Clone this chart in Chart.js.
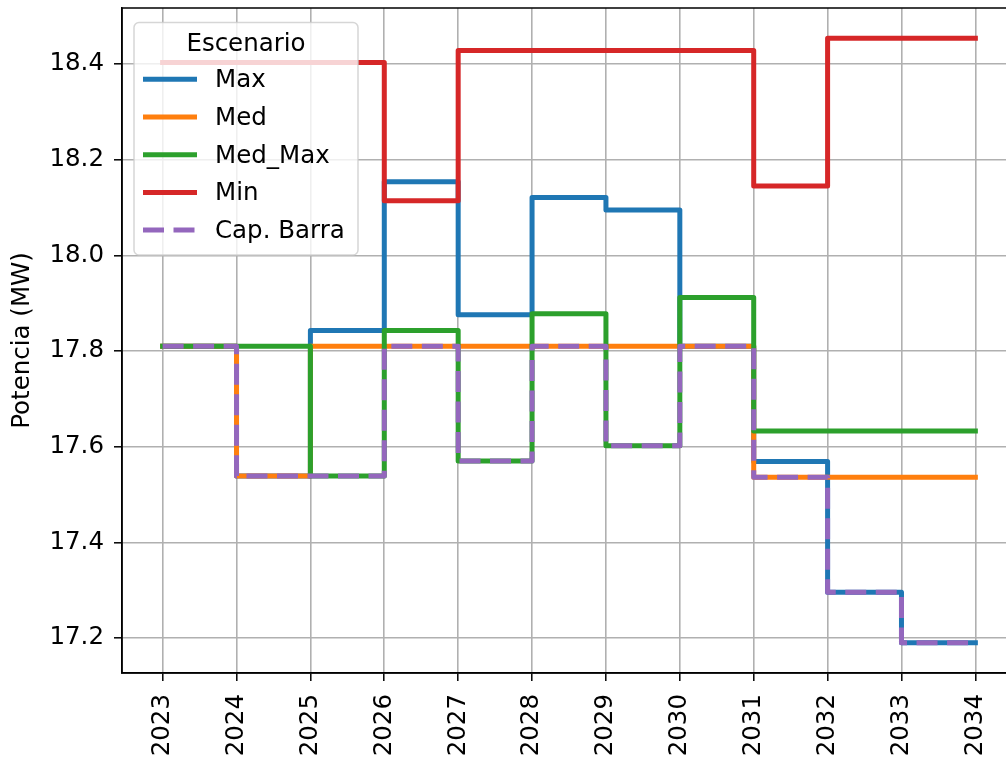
<!DOCTYPE html>
<html>
<head>
<meta charset="utf-8">
<script src="https://cdn.jsdelivr.net/npm/chart.js@4.4.0/dist/chart.umd.min.js"></script>
<style>
  html, body { margin: 0; padding: 0; overflow: hidden; background: #fff; }
  canvas { display: block; }
</style>
</head>
<body>
<canvas id="myChart" width="1016" height="760"></canvas>
<script>
// data
const years = [2023, 2024, 2025, 2026, 2027, 2028, 2029, 2030, 2031, 2032, 2033, 2034];
const seriesNames = ["Max", "Med", "Med_Max", "Min", "Cap. Barra"];
const maxValues = [17.81, 17.539, 17.843, 18.154, 17.876, 18.121, 18.095, 17.81, 17.569, 17.296, 17.19, 17.19];
const medValues = [17.81, 17.539, 17.81, 17.81, 17.81, 17.81, 17.81, 17.81, 17.536, 17.536, 17.536, 17.536];
const medMaxValues = [17.81, 17.81, 17.539, 17.843, 17.57, 17.878, 17.602, 17.912, 17.633, 17.633, 17.633, 17.633];
const minValues = [18.403, 18.403, 18.403, 18.114, 18.428, 18.428, 18.428, 18.428, 18.145, 18.454, 18.454, 18.454];
const capBarraValues = [17.81, 17.539, 17.539, 17.81, 17.57, 17.81, 17.602, 17.81, 17.536, 17.296, 17.19, 17.19];
const yTicks = [17.2, 17.4, 17.6, 17.8, 18.0, 18.2, 18.4];
const legendTitle = "Escenario";
const yTitle = "Potencia (MW)";

const colors = ["#1f77b4", "#ff7f0e", "#2ca02c", "#d62728", "#9467bd"];
const allValues = [maxValues, medValues, medMaxValues, minValues, capBarraValues];

const cxt = document.querySelector("#myChart");
Chart.defaults.font.family = "'DejaVu Sans', sans-serif";
Chart.defaults.font.size = 24.5;
Chart.defaults.color = "#000";

const datasets = seriesNames.map((name, i) => ({
  label: name,
  data: years.map((yr, j) => ({ x: yr, y: allValues[i][j] })),
  borderColor: colors[i],
  backgroundColor: colors[i],
  borderWidth: 5,
  borderDash: i === 4 ? [21, 9.5] : [],
  borderCapStyle: i === 4 ? "butt" : "square",
  borderJoinStyle: "round",
  stepped: "before",
  pointRadius: 0,
  fill: false,
  order: 5 - i,
}));

// axes frame, drawn over the lines
const frame = {
  id: "frame",
  afterDatasetsDraw(chart) {
    const { ctx, chartArea: a } = chart;
    ctx.save();
    ctx.strokeStyle = "#000";
    ctx.lineWidth = 1.5;
    ctx.strokeRect(a.left, a.top, a.right - a.left, a.bottom - a.top);
    ctx.restore();
  },
};

// matplotlib-like legend in the upper left corner
const legendBox = {
  id: "legendBox",
  afterDraw(chart) {
    const ctx = chart.ctx;
    ctx.save();
    ctx.beginPath();
    ctx.roundRect(134, 22.5, 224, 232.5, 5);
    ctx.fillStyle = "rgba(255,255,255,0.8)";
    ctx.fill();
    ctx.strokeStyle = "rgba(204,204,204,0.8)";
    ctx.lineWidth = 1.5;
    ctx.stroke();

    ctx.font = "24.5px 'DejaVu Sans'";
    ctx.fillStyle = "#000";
    ctx.textBaseline = "alphabetic";
    ctx.textAlign = "center";
    ctx.fillText(legendTitle, 246, 50.5);

    chart.data.datasets.forEach((ds, i) => {
      const y = 79.3 + i * 37.7;
      ctx.beginPath();
      ctx.setLineDash(ds.borderDash);
      ctx.strokeStyle = ds.borderColor;
      ctx.lineWidth = 5;
      ctx.lineCap = "butt";
      ctx.moveTo(143, y);
      ctx.lineTo(197, y);
      ctx.stroke();
      ctx.setLineDash([]);
      ctx.textAlign = "left";
      ctx.fillText(ds.label, 215, y + 8);
    });
    ctx.restore();
  },
};

const config = {
  type: "line",
  data: { datasets: datasets },
  options: {
    responsive: false,
    animation: false,
    devicePixelRatio: 1,
    layout: { padding: { top: 8, left: 0, right: 0, bottom: 0 } },
    plugins: {
      legend: { display: false },
      tooltip: { enabled: false },
    },
    scales: {
      x: {
        type: "linear",
        min: 2022.45,
        max: 2034.55,
        afterBuildTicks: (scale) => {
          scale.ticks = years.map((v) => ({ value: v }));
        },
        afterFit: (scale) => {
          scale.height = 87;
          scale.paddingLeft = 0;
          scale.paddingRight = 0;
        },
        ticks: {
          minRotation: 90,
          maxRotation: 90,
          padding: 13,
          autoSkip: false,
          callback: (v) => String(v),
        },
        grid: {
          color: "#b0b0b0",
          lineWidth: 1.6,
          tickColor: "#000",
          tickWidth: 1.5,
          tickLength: 8,
        },
        border: { color: "#000", width: 1.5 },
      },
      y: {
        min: 17.127,
        max: 18.517,
        afterBuildTicks: (scale) => {
          scale.ticks = yTicks.map((v) => ({ value: v }));
        },
        afterFit: (scale) => {
          scale.width = 122;
          scale.paddingTop = 0;
          scale.paddingBottom = 0;
        },
        ticks: {
          padding: 10,
          callback: (v) => v.toFixed(1),
        },
        grid: {
          color: "#b0b0b0",
          lineWidth: 1.6,
          tickColor: "#000",
          tickWidth: 1.5,
          tickLength: 8,
        },
        border: { color: "#000", width: 1.5 },
        title: {
          display: true,
          text: yTitle,
          padding: { top: 8, bottom: 0 },
        },
      },
    },
  },
  plugins: [frame, legendBox],
};

new Chart(cxt, config);
</script>
</body>
</html>
